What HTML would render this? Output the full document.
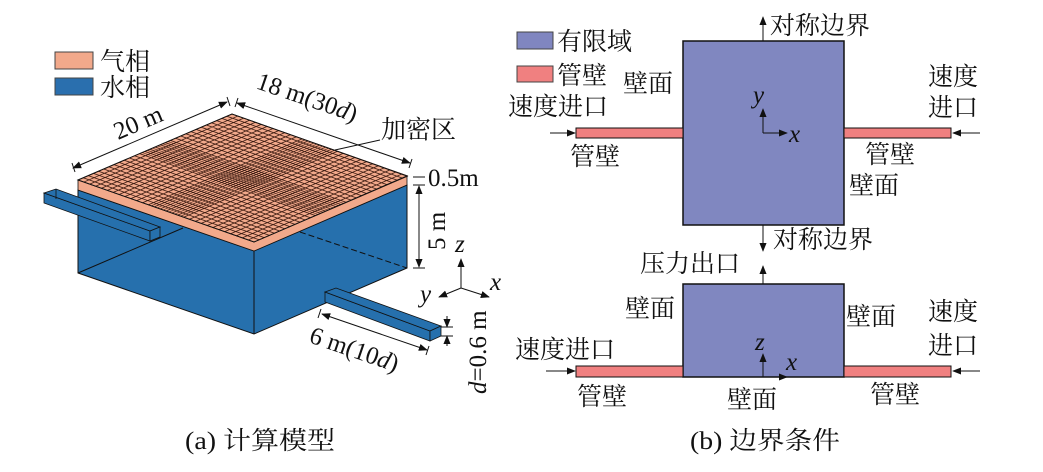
<!DOCTYPE html>
<html><head><meta charset="utf-8"><style>
html,body{margin:0;padding:0;background:#fff;}
svg{display:block;}
text{font-family:"Liberation Serif","Noto Serif CJK SC","Noto Sans CJK SC",serif;fill:#111;}
.c{font-size:25px;}
.i{font-style:italic;}
</style></head><body>
<svg width="1043" height="472" viewBox="0 0 1043 472" xmlns="http://www.w3.org/2000/svg">
<defs>
<marker id="ah" viewBox="0 0 10 10" refX="9" refY="5" markerWidth="9" markerHeight="9" orient="auto-start-reverse" markerUnits="userSpaceOnUse"><path d="M0,1 L10,5 L0,9 z" fill="#111"/></marker>
</defs>
<rect x="55" y="52" width="38" height="17" fill="#f2a98b" stroke="#444" stroke-width="1"/>
<rect x="55" y="78" width="38" height="17" fill="#2a6fae" stroke="#444" stroke-width="1"/>
<text class="c" x="100" y="70">气相</text>
<text class="c" x="100" y="96">水相</text>

<polygon points="78,190 254,251 407,185 407,268 254,334 78,273" fill="#2670ad" stroke="#111" stroke-width="1"/>
<line x1="254" y1="251" x2="254" y2="334" stroke="#111"/>
<line x1="78" y1="273" x2="183" y2="228" stroke="#111"/>
<line x1="300" y1="232" x2="407" y2="268" stroke="#111" stroke-dasharray="6,3"/>
<polygon points="78,180 254,242 407,176 407,185 254,251 78,190" fill="#f2a98b" stroke="#111" stroke-width="0.8"/>
<g transform="matrix(5.8667,2.0667,5.1333,-2.2,78,180)">
<rect x="0" y="0" width="30" height="30" fill="#f2a98b"/>
<path vector-effect="non-scaling-stroke" stroke="#3a1a10" stroke-width="0.8" fill="none" d="M0 0H30M0 1H30M0 2H30M0 3H30M0 4H30M0 5H30M0 6H30M0 7H30M0 8H30M0 9H30M0 10H30M0 11H30M0 12H30M0 13H30M0 14H30M0 15H30M0 16H30M0 17H30M0 18H30M0 19H30M0 20H30M0 21H30M0 22H30M0 23H30M0 24H30M0 25H30M0 26H30M0 27H30M0 28H30M0 29H30M0 30H30M0 0V30M1 0V30M2 0V30M3 0V30M4 0V30M5 0V30M6 0V30M7 0V30M8 0V30M9 0V30M10 0V30M11 0V30M12 0V30M13 0V30M14 0V30M15 0V30M16 0V30M17 0V30M18 0V30M19 0V30M20 0V30M21 0V30M22 0V30M23 0V30M24 0V30M25 0V30M26 0V30M27 0V30M28 0V30M29 0V30M30 0V30"/>
<path vector-effect="non-scaling-stroke" stroke="#3a1a10" stroke-width="0.6" fill="none" d="M0 12.5H30M0 13.5H30M0 14.5H30M0 15.5H30M0 16.5H30M0 17.5H30M12.5 0V30M13.5 0V30M14.5 0V30M15.5 0V30M16.5 0V30M17.5 0V30"/>
</g>
<polygon points="78,180 232,114 407,176 254,242" fill="none" stroke="#111" stroke-width="1"/>

<polygon points="44,193 150,231 150,241 44,203" fill="#2670ad" stroke="#111" stroke-width="0.8"/>
<polygon points="44,193 56,189 160,227 150,231" fill="#2670ad" stroke="#111" stroke-width="0.8"/>
<polygon points="150,231 160,227 160,237 150,241" fill="#2670ad" stroke="#111" stroke-width="0.8"/>
<line x1="56" y1="189" x2="56" y2="199" stroke="#111" stroke-width="0.8"/>
<polygon points="325,292 430,331 430,341 325,302" fill="#2670ad" stroke="#111" stroke-width="0.8"/>
<polygon points="325,292 336,288 441,326 430,331" fill="#2670ad" stroke="#111" stroke-width="0.8"/>
<polygon points="430,331 441,326 441,336 430,341" fill="#2670ad" stroke="#111" stroke-width="0.8"/>

<line x1="73" y1="168" x2="227" y2="102" stroke="#111" marker-start="url(#ah)" marker-end="url(#ah)"/>
<line x1="72" y1="163" x2="75" y2="172" stroke="#111"/><line x1="227" y1="97" x2="230" y2="106" stroke="#111"/>
<text class="c" transform="translate(118,140) rotate(-23)">20 m</text>
<line x1="237" y1="103" x2="410" y2="163" stroke="#111" marker-start="url(#ah)" marker-end="url(#ah)"/>
<line x1="238" y1="98" x2="235" y2="107" stroke="#111"/><line x1="412" y1="159" x2="409" y2="168" stroke="#111"/>
<text class="c" transform="translate(255,88) rotate(19)">18 m(30<tspan class="i">d</tspan>)</text>
<line x1="335" y1="150" x2="380" y2="140" stroke="#111"/>
<text class="c" x="381" y="138">加密区</text>
<line x1="419" y1="186" x2="419" y2="267" stroke="#111" marker-start="url(#ah)" marker-end="url(#ah)"/>
<line x1="413" y1="185" x2="425" y2="185" stroke="#111"/><line x1="413" y1="268" x2="425" y2="268" stroke="#111"/>
<line x1="413" y1="177" x2="425" y2="177" stroke="#111"/>
<text class="c" x="428" y="186">0.5m</text>
<text class="c" transform="translate(445,250) rotate(-90)">5 m</text>
<line x1="461" y1="288" x2="461" y2="259" stroke="#111" marker-end="url(#ah)"/>
<line x1="461" y1="288" x2="489" y2="297" stroke="#111" marker-end="url(#ah)"/>
<line x1="461" y1="288" x2="439" y2="297" stroke="#111" marker-end="url(#ah)"/>
<text class="c i" x="455" y="252">z</text>
<text class="c i" x="490" y="290">x</text>
<text class="c i" x="420" y="302">y</text>
<line x1="322" y1="314" x2="427" y2="350" stroke="#111" marker-start="url(#ah)" marker-end="url(#ah)"/>
<line x1="321" y1="309" x2="318" y2="318" stroke="#111"/><line x1="429" y1="346" x2="426" y2="355" stroke="#111"/>
<text class="c" transform="translate(308,342) rotate(19)">6 m(10<tspan class="i">d</tspan>)</text>
<line x1="447" y1="316" x2="447" y2="327" stroke="#111" marker-end="url(#ah)"/>
<line x1="447" y1="346" x2="447" y2="336" stroke="#111" marker-end="url(#ah)"/>
<line x1="441" y1="327" x2="453" y2="327" stroke="#111"/><line x1="441" y1="336" x2="453" y2="336" stroke="#111"/>
<text class="c" transform="translate(486,394) rotate(-90)"><tspan class="i">d</tspan>=0.6 m</text>

<rect x="517" y="32" width="36" height="17" fill="#8086c0" stroke="#444"/>
<rect x="517" y="66" width="36" height="16" fill="#f08080" stroke="#444"/>
<text class="c" x="557" y="50">有限域</text>
<text class="c" x="557" y="84">管壁</text>

<rect x="683" y="41" width="161" height="184" fill="#8087c0" stroke="#111" stroke-width="1.5"/>
<rect x="576" y="128" width="107" height="10" fill="#f08080" stroke="#111"/>
<rect x="844" y="128" width="107" height="10" fill="#f08080" stroke="#111"/>
<line x1="763" y1="41" x2="763" y2="17" stroke="#111" marker-end="url(#ah)"/>
<text class="c" x="770" y="34">对称边界</text>
<line x1="550" y1="133" x2="575" y2="133" stroke="#111" marker-end="url(#ah)"/>
<line x1="980" y1="133" x2="953" y2="133" stroke="#111" marker-end="url(#ah)"/>
<text class="c" x="623" y="92">壁面</text>
<text class="c" x="508" y="115">速度进口</text>
<text class="c" x="570" y="165">管壁</text>
<text class="c" x="928" y="85">速度</text>
<text class="c" x="928" y="116">进口</text>
<text class="c" x="865" y="163">管壁</text>
<text class="c" x="849" y="194">壁面</text>
<line x1="763" y1="133" x2="763" y2="109" stroke="#111" marker-end="url(#ah)"/>
<line x1="763" y1="133" x2="787" y2="133" stroke="#111" marker-end="url(#ah)"/>
<text class="c i" x="753" y="103">y</text>
<text class="c i" x="789" y="142">x</text>

<line x1="763" y1="225" x2="763" y2="251" stroke="#111" marker-end="url(#ah)"/>
<text class="c" x="773" y="248">对称边界</text>
<text class="c" x="640" y="272">压力出口</text>
<line x1="763" y1="284" x2="763" y2="266" stroke="#111" marker-end="url(#ah)"/>

<rect x="683" y="284" width="161" height="93" fill="#8087c0" stroke="#111" stroke-width="1.5"/>
<rect x="576" y="366" width="107" height="11" fill="#f08080" stroke="#111"/>
<rect x="844" y="366" width="107" height="11" fill="#f08080" stroke="#111"/>
<line x1="546" y1="371" x2="575" y2="371" stroke="#111" marker-end="url(#ah)"/>
<line x1="980" y1="371" x2="953" y2="371" stroke="#111" marker-end="url(#ah)"/>
<text class="c" x="625" y="317">壁面</text>
<text class="c" x="846" y="325">壁面</text>
<text class="c" x="515" y="358">速度进口</text>
<text class="c" x="928" y="320">速度</text>
<text class="c" x="928" y="354">进口</text>
<text class="c" x="577" y="405">管壁</text>
<text class="c" x="727" y="408">壁面</text>
<text class="c" x="870" y="403">管壁</text>
<line x1="763" y1="377" x2="763" y2="354" stroke="#111" marker-end="url(#ah)"/>
<line x1="763" y1="377" x2="787" y2="377" stroke="#111" marker-end="url(#ah)"/>
<text class="c i" x="755" y="350">z</text>
<text class="c i" x="786" y="370">x</text>

<text class="c" x="185" y="449" textLength="150" lengthAdjust="spacingAndGlyphs">(a) 计算模型</text>
<text class="c" x="690" y="449" textLength="150" lengthAdjust="spacingAndGlyphs">(b) 边界条件</text>
</svg>
</body></html>
